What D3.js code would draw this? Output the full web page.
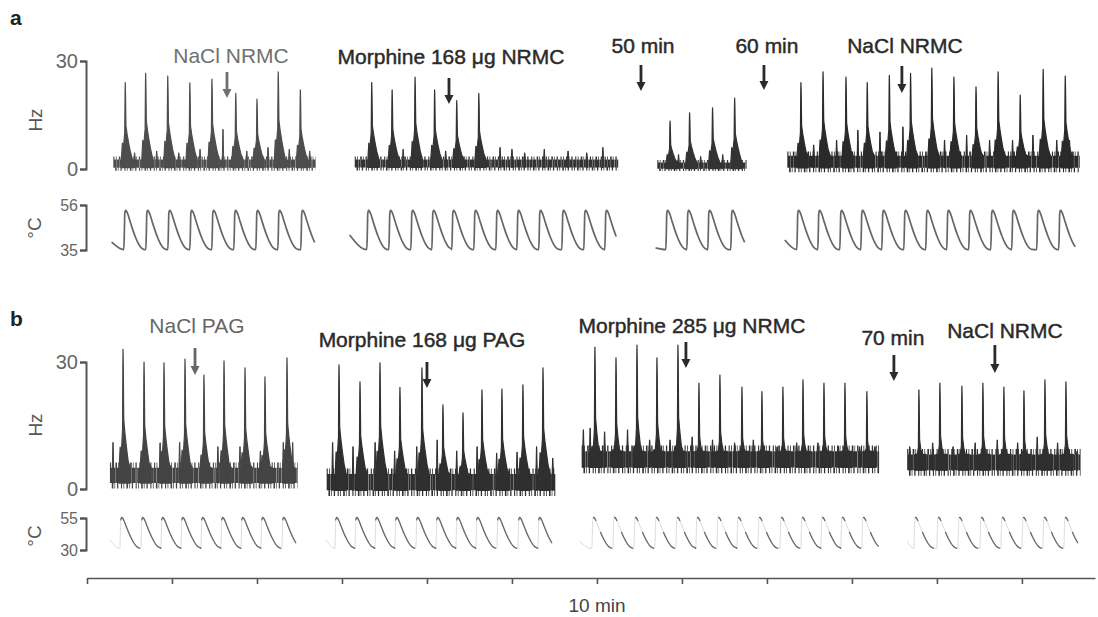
<!DOCTYPE html>
<html>
<head>
<meta charset="utf-8">
<script src="https://cdn.jsdelivr.net/npm/d3@7/dist/d3.min.js"></script>
<style>
  body { margin: 0; background: #fff; }
  svg { display: block; }
  text { font-family: "Liberation Sans", Arial, Helvetica, sans-serif; }
</style>
</head>
<body>
<svg id="chart" width="1098" height="617"></svg>
<script>
// ---- data (times in minutes, firing in Hz, temperature in °C) ----
const tickMinutes = [0, 10, 20, 30, 40, 50, 60, 70, 80, 90, 100, 110];

// panel a — firing
const aSegments = [[3.1, 26.9], [31.5, 62.5], [67.1, 77.6], [82.4, 116.8]];
const aPeakTimes = [
  [4.5, 6.9, 9.5, 12.1, 14.7, 17.5, 20.0, 22.5, 25.1],
  [33.5, 35.9, 38.6, 40.9, 43.5, 46.1],
  [68.6, 70.9, 73.6, 76.2],
  [84.0, 86.6, 89.3, 91.8, 94.4, 96.9, 99.4, 102.0, 104.6, 107.2, 109.8, 112.5, 115.1]
];
const aPeakHz = [
  [24, 26.6, 25.8, 23.9, 25, 21, 19.4, 27, 22],
  [24, 22, 25.5, 22, 19, 21],
  [13.3, 15.6, 17, 19.7],
  [24, 27, 25.5, 24, 26, 26.6, 28, 25.5, 22.8, 27, 20.5, 27.7, 25.8]
];
const aNoiseHz = [[-0.4, 3.4], [-0.3, 3.4], [-0.5, 2.4], [-0.8, 4.8]];
const aBumps = [
  [[16.0, 11], [5.6, 4.5], [8.2, 5], [10.8, 4.5], [13.3, 5.5], [18.8, 5], [21.3, 6], [23.8, 5.5], [26.2, 5]],
  [[37.2, 5.5], [42.2, 5], [48.6, 6], [50.0, 5.5], [51.5, 4.5], [53.8, 5.5], [56.6, 5], [58.8, 4.5], [60.7, 6]],
  [[69.6, 4], [72.2, 3.5], [74.8, 4]],
  [[85.5, 6.7], [88.2, 8], [90.7, 10.8], [93.3, 10.3], [96.0, 11.7], [100.9, 8],
   [103.5, 9.4], [106.2, 8], [108.9, 8], [111.3, 9.4], [114.1, 8], [115.6, 8]]
];

// panel a — stimulus temperature
const aTempSegments = [[2.9, 26.9], [30.9, 62.4], [66.9, 77.4], [82.1, 116.5]];
const aTempStartC = [38.7, 42, 36, 39.7];
const aTempPeaks = [
  [4.47, 7.06, 9.65, 12.24, 14.82, 17.41, 20.0, 22.59, 25.29],
  [33.06, 35.65, 38.24, 40.71, 43.06, 45.65, 48.24, 50.71, 53.29, 56.0, 58.59, 61.06],
  [68.24, 70.71, 73.18, 75.88],
  [83.65, 86.12, 88.71, 91.18, 93.65, 96.24, 98.82, 101.29, 103.88, 106.47, 108.94, 111.88, 114.47]
];
const aTempPeakC = 53.5, aTempTroughC = 35;

// panel b — firing
const bSegments = [[2.7, 24.8], [28.2, 55.1], [58.2, 93.2], [96.5, 116.9]];
const bPeakTimes = [
  [4.24, 6.71, 9.06, 11.53, 13.76, 16.12, 18.59, 20.94, 23.53],
  [29.65, 32.12, 34.47, 36.82, 39.41, 41.88, 44.24, 46.47, 48.82, 51.29, 53.65],
  [59.76, 62.24, 64.71, 67.06, 69.53, 72.0, 74.47, 77.06, 79.41, 81.88, 84.24, 86.71, 89.18, 91.76],
  [97.88, 100.35, 102.94, 105.41, 107.88, 110.24, 112.71, 115.18]
];
const bPeakHz = [
  [33, 30, 29.8, 30.7, 26.9, 30.3, 28.6, 26.5, 31],
  [29.3, 25.3, 29.8, 24, 28.6, 19.9, 18, 23.4, 23.6, 24.6, 28.6],
  [33.5, 31, 34, 31, 34, 25, 26.9, 24.1, 23, 24.1, 25.8, 25, 25, 23],
  [23.4, 25, 24.3, 25, 24.1, 23.2, 25.8, 25.3]
];
const bNoiseHz = [[0.2, 6.2], [-1.6, 4.8], [3.8, 10.2], [3.2, 9.4]];
const bBumps = [
  [[3.06, 11], [8.6, 10.9], [10.9, 11], [15.4, 10], [18.0, 10], [20.4, 9], [23.1, 11], [24.2, 11]],
  [[28.9, 11], [31.3, 10], [33.9, 11], [36.2, 9], [38.8, 10], [41.2, 11.6], [43.5, 9],
   [45.9, 10], [48.2, 8.5], [50.6, 8.7], [52.9, 10], [54.8, 7.3]],
  [[58.4, 14], [59.2, 14.4], [60.9, 13.5], [63.6, 14], [66.2, 11.6], [68.6, 11.6], [71.2, 12.3],
   [73.6, 11.6], [76.2, 10.9], [78.4, 11.6], [81.2, 10], [83.5, 10.9], [86.0, 10.9],
   [88.4, 10], [90.9, 10], [92.7, 10]],
  [[96.8, 10], [99.5, 10.9], [101.9, 10], [104.5, 10.9], [107.1, 11.6], [109.5, 10.9],
   [111.8, 12.3], [114.2, 10.9], [116.5, 9]]
];

// panel b — stimulus temperature
const bTempSegments = [[2.7, 24.8], [28.1, 54.9], [57.9, 93.3], [96.5, 116.7]];
const bTempStartC = [38, 38, 37, 37];
const bTempPeaks = [
  [4.0, 6.47, 8.82, 11.18, 13.53, 15.88, 18.24, 20.59, 23.06],
  [29.29, 31.65, 34.0, 36.35, 38.82, 41.18, 43.53, 45.88, 48.35, 50.82, 53.18],
  [59.53, 62.0, 64.47, 66.94, 69.41, 71.76, 74.24, 76.59, 79.06, 81.65, 84.12, 86.47, 88.82, 91.29],
  [97.41, 100.12, 102.59, 105.18, 107.65, 110.12, 112.59, 115.06]
];
const bTempPeakC = 55.5, bTempTroughC = 31;

// annotations
const aLabels = ["NaCl NRMC", "Morphine 168 \u03bcg NRMC", "50 min", "60 min", "NaCl NRMC"];
const aArrowTimes = [16.47, 42.59, 65.18, 79.65, 95.88];
const bLabels = ["NaCl PAG", "Morphine 168 \u03bcg PAG", "Morphine 285 \u03bcg NRMC", "70 min", "NaCl NRMC"];
const bArrowTimes = [12.71, 40.0, 70.47, 94.94, 106.82];

// ---- layout ----
const svg = d3.select("#chart");
const x = d3.scaleLinear().domain([0, 118.6]).range([87, 1095]);
const yA = d3.scaleLinear().domain([0, 30]).range([169, 61]);
const tA = d3.scaleLinear().domain([35, 56]).range([250, 205]);
const yB = d3.scaleLinear().domain([0, 30]).range([489, 362]);
const tB = d3.scaleLinear().domain([30, 55]).range([550, 518]);

// irregular dash patterns give the recorder-noise texture
const coreDash = "3.4 0.3 2.1 0.25 4.2 0.4 1.6 0.2 2.8 0.35";
const fringeDash = "1.1 1.4 0.8 2.2 1.6 1.1 0.7 1.9 1.3 2.6";

function drawFiring(g, y, segs, peakT, peakHz, noise, bumps, colors) {
  const area = d3.area().x(d => x(d[0])).y1(d => y(d[1]));
  const line = d3.line().x(d => x(d[0])).y(d => y(d[1]));
  segs.forEach((s, i) => {
    const [lo, hi] = noise[i];
    const span = hi - lo;
    const cLo = lo + 0.2 * span, cHi = hi - 0.2 * span;
    const col = colors[i];
    const sg = g.append("g").attr("fill", col).attr("stroke", col)
      .attr("stroke-linejoin", "round");
    // dense core
    sg.append("path").datum([[s[0], (cLo + cHi) / 2], [s[1], (cLo + cHi) / 2]])
      .attr("d", line).attr("fill", "none")
      .attr("stroke-width", y(cLo) - y(cHi)).attr("stroke-dasharray", coreDash);
    // ragged upper and lower fringes
    [[cHi, hi], [lo, cLo]].forEach((f, k) => {
      sg.append("path").datum([[s[0], (f[0] + f[1]) / 2], [s[1], (f[0] + f[1]) / 2]])
        .attr("d", line).attr("fill", "none")
        .attr("stroke-width", y(f[0]) - y(f[1]) + 0.6)
        .attr("stroke-dasharray", fringeDash)
        .attr("stroke-dashoffset", k * 3.7);
    });
    peakT[i].forEach((p, k) => {
      const pk = peakHz[i][k];
      const pts = [
        [p - 0.45, cHi], [p - 0.34, 0.3 * pk], [p - 0.2, 0.26 * pk], [p - 0.06, 0.42 * pk],
        [p - 0.02, 0.88 * pk], [p, pk], [p + 0.03, 0.88 * pk], [p + 0.08, 0.5 * pk],
        [p + 0.22, 0.4 * pk], [p + 0.4, 0.3 * pk], [p + 0.6, 0.2 * pk], [p + 0.85, cHi]
      ].map(d => [d[0], Math.max(cHi, d[1])]);
      sg.append("path").datum(pts).attr("d", area.y0(y(cLo))).attr("stroke-width", 1.2);
    });
    bumps[i].forEach(b => {
      const pts = [[b[0] - 0.08, cHi], [b[0] - 0.015, b[1]], [b[0] + 0.015, b[1]], [b[0] + 0.08, cHi]];
      sg.append("path").datum(pts).attr("d", area.y0(y(cLo))).attr("stroke-width", 1);
    });
  });
}

// one heating cycle shape around its peak time
function cycle(p, T0, P) {
  const a = P - T0;
  return [
    [p - 0.14, T0 + 0.01 * a], [p - 0.07, T0 + 0.5 * a], [p - 0.025, T0 + 0.92 * a],
    [p + 0.06, P], [p + 0.18, T0 + 0.98 * a], [p + 0.34, T0 + 0.9 * a],
    [p + 0.6, T0 + 0.72 * a], [p + 0.9, T0 + 0.52 * a], [p + 1.2, T0 + 0.34 * a],
    [p + 1.5, T0 + 0.19 * a], [p + 1.8, T0 + 0.08 * a], [p + 2.2, T0 + 0.015 * a]
  ];
}

function tempPoints(seg, startC, peaks, T0, P) {
  let pts = [[seg[0], startC]];
  peaks.forEach(p => { pts = pts.concat(cycle(p, T0, P)); });
  return pts.filter(d => d[0] >= seg[0] && d[0] <= seg[1]).sort((m, n) => m[0] - n[0]);
}

function drawTemp(g, t, segs, startC, peaks, T0, P, style) {
  const line = d3.line().x(d => x(d[0])).y(d => t(d[1])).curve(d3.curveMonotoneX);
  segs.forEach((s, i) => {
    const pts = tempPoints(s, startC[i], peaks[i], T0, P);
    if (style.faint) {
      g.append("path").datum(pts).attr("d", line)
        .attr("fill", "none").attr("stroke", "#dcdcdc").attr("stroke-width", 1);
      peaks[i].forEach(p => {
        const windows = style.split[i] ? [[p - 0.02, p + 0.36], [p + 0.62, p + 2.25]] : [[p - 0.045, p + 2.25]];
        windows.forEach(w => {
          const part = pts.filter(d => d[0] >= w[0] && d[0] <= w[1]);
          if (part.length > 1) g.append("path").datum(part).attr("d", line)
            .attr("fill", "none").attr("stroke", style.color).attr("stroke-width", style.width)
            .attr("stroke-linecap", "round");
        });
      });
    } else {
      g.append("path").datum(pts).attr("d", line)
        .attr("fill", "none").attr("stroke", style.color).attr("stroke-width", style.width);
    }
  });
}

function bracket(y, ticks, tx, fontSize) {
  const ax = svg.append("g").attr("transform", `translate(${tx},0)`)
    .call(d3.axisLeft(y).tickValues(ticks).tickSize(6).tickSizeOuter(6).tickPadding(2));
  ax.selectAll("path, line").attr("stroke", "#555").attr("stroke-width", 2);
  ax.selectAll("text").attr("font-size", fontSize).attr("fill", "#666")
    .style("font-family", "'Liberation Sans', Arial, sans-serif");
}

function arrow(g, xPos, yTop, yBot, color) {
  const h = 9, w = 4.5, sw = 1.4;
  const pth = `M${xPos - sw},${yTop} L${xPos + sw},${yTop} L${xPos + sw},${yBot - h} L${xPos + w},${yBot - h}
    L${xPos},${yBot} L${xPos - w},${yBot - h} L${xPos - sw},${yBot - h} Z`;
  g.append("path").attr("d", pth).attr("fill", color);
}

function annotate(labels, times, cfg) {
  const g = svg.append("g");
  labels.forEach((lab, i) => {
    const c = cfg[i];
    const xp = x(times[i]);
    g.append("text").attr("x", xp + c.dx).attr("y", c.base)
      .attr("text-anchor", "middle").attr("font-size", 21)
      .attr("fill", c.color).attr("stroke", c.color).attr("stroke-width", c.heavy ? 0.45 : 0)
      .text(lab);
    arrow(g, xp, c.top, c.bot, c.color);
  });
}

// ---- panel a ----
svg.append("text").attr("x", 10).attr("y", 25).attr("font-size", 21)
  .attr("font-weight", "bold").attr("fill", "#222").text("a");
bracket(yA, [0, 30], 86, 20);
bracket(tA, [35, 56], 86, 16);
svg.append("text").attr("transform", "translate(42,120) rotate(-90)")
  .attr("text-anchor", "middle").attr("font-size", 19).attr("fill", "#555").text("Hz");
svg.append("text").attr("transform", "translate(41,228) rotate(-90)")
  .attr("text-anchor", "middle").attr("font-size", 19).attr("fill", "#555").text("°C");

drawFiring(svg.append("g"), yA, aSegments, aPeakTimes, aPeakHz, aNoiseHz, aBumps,
  ["#4d4d4d", "#333", "#333", "#2a2a2a"]);
drawTemp(svg.append("g"), tA, aTempSegments, aTempStartC, aTempPeaks, aTempTroughC, aTempPeakC,
  { color: "#666", width: 1.7 });

annotate(aLabels, aArrowTimes, [
  { dx: 4, base: 63, top: 72, bot: 98, color: "#707070" },
  { dx: 2, base: 64, top: 78, bot: 104, color: "#2a2a2a", heavy: true },
  { dx: 2, base: 53, top: 65, bot: 91, color: "#2a2a2a", heavy: true },
  { dx: 3, base: 53, top: 65, bot: 90, color: "#2a2a2a", heavy: true },
  { dx: 3, base: 53, top: 66, bot: 93, color: "#2a2a2a", heavy: true }
]);

// ---- panel b ----
svg.append("text").attr("x", 10).attr("y", 326).attr("font-size", 21)
  .attr("font-weight", "bold").attr("fill", "#222").text("b");
bracket(yB, [0, 30], 86, 20);
bracket(tB, [30, 55], 86, 16);
svg.append("text").attr("transform", "translate(42,425) rotate(-90)")
  .attr("text-anchor", "middle").attr("font-size", 19).attr("fill", "#555").text("Hz");
svg.append("text").attr("transform", "translate(41,536) rotate(-90)")
  .attr("text-anchor", "middle").attr("font-size", 19).attr("fill", "#555").text("°C");

drawFiring(svg.append("g"), yB, bSegments, bPeakTimes, bPeakHz, bNoiseHz, bBumps,
  ["#444", "#2f2f2f", "#2f2f2f", "#2f2f2f"]);
drawTemp(svg.append("g"), tB, bTempSegments, bTempStartC, bTempPeaks, bTempTroughC, bTempPeakC,
  { faint: true, split: [false, false, true, true], color: "#666", width: 1.3 });

annotate(bLabels, bArrowTimes, [
  { dx: 2, base: 333, top: 348, bot: 375, color: "#666" },
  { dx: -5, base: 347, top: 362, bot: 388, color: "#2a2a2a", heavy: true },
  { dx: 6, base: 333, top: 342, bot: 368, color: "#2a2a2a", heavy: true },
  { dx: -1, base: 345, top: 355, bot: 381, color: "#2a2a2a", heavy: true },
  { dx: 10, base: 338, top: 345, bot: 373, color: "#2a2a2a", heavy: true }
]);

// ---- time axis ----
const xAxis = svg.append("g").attr("transform", "translate(0,578)")
  .call(d3.axisBottom(x).tickValues(tickMinutes).tickSize(6).tickSizeOuter(0).tickFormat(""));
xAxis.selectAll("path, line").attr("stroke", "#555").attr("stroke-width", 1.6);
svg.append("text").attr("x", 597).attr("y", 612).attr("text-anchor", "middle")
  .attr("font-size", 19).attr("fill", "#444").text("10 min");
</script>
</body>
</html>
